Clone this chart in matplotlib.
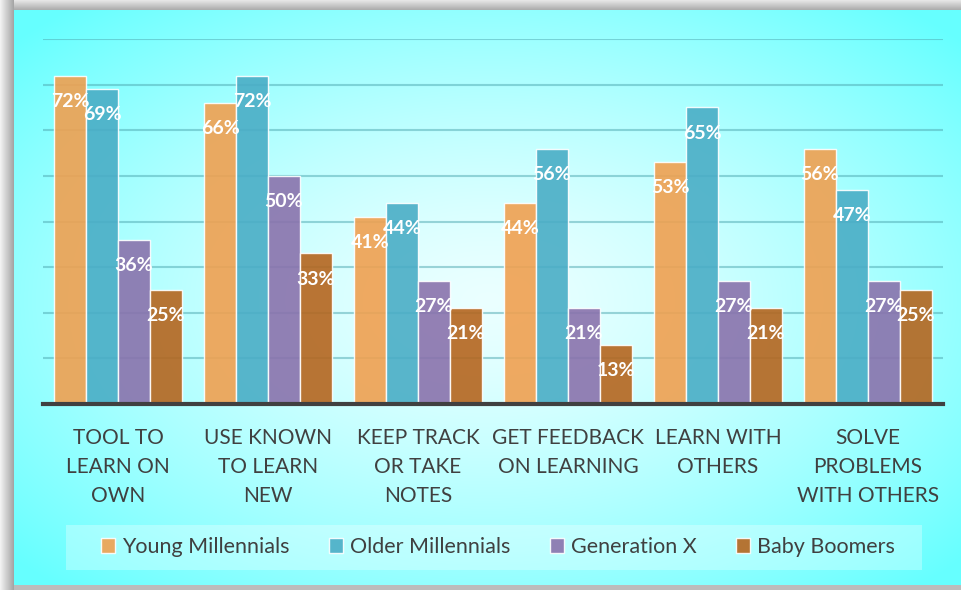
import numpy as np
import matplotlib
matplotlib.use("Agg")
import matplotlib.pyplot as plt
from matplotlib.patches import Rectangle

categories = ["TOOL TO\nLEARN ON\nOWN", "USE KNOWN\nTO LEARN\nNEW", "KEEP TRACK\nOR TAKE\nNOTES",
              "GET FEEDBACK\nON LEARNING", "LEARN WITH\nOTHERS", "SOLVE\nPROBLEMS\nWITH OTHERS"]
series_names = ["Young Millennials", "Older Millennials", "Generation X", "Baby Boomers"]
young = [72, 66, 41, 44, 53, 56]
older = [69, 72, 44, 56, 65, 47]
genx = [36, 50, 27, 21, 27, 27]
boomers = [25, 33, 21, 13, 21, 25]
series = [young, older, genx, boomers]
colors = ["#F0A050", "#4AADC6", "#8A72AC", "#B5651E"]

plt.rcParams['font.family'] = ['Lato', 'DejaVu Sans']

W, H = 962, 590
fig = plt.figure(figsize=(W / 100, H / 100), dpi=100)

# background image (frame + radial gradient)
yy, xx = np.mgrid[0:H, 0:W].astype(float)
cx, cy = 488.0, 300.0
r = np.sqrt(((xx - cx) / 474.0) ** 2 + ((yy - cy) / 287.0) ** 2)
t = np.clip(r / 1.35, 0, 1) ** 1.4
R = 0.92 - 0.52 * t
img = np.ones((H, W, 3))
img[..., 0] = R
left = xx < 14
top = yy < 10
bottom = yy >= 585
border = left | top | bottom
gval = np.full((H, W), 0.75)
gval[left] = 0.95 - 0.30 * (xx[left] / 13.0)
gval[top & ~left] = 0.90 - 0.22 * (yy[top & ~left] / 9.0)
gval[bottom & ~left] = 0.74
for c in range(3):
    ch = img[..., c]
    ch[border] = gval[border]
bg = fig.add_axes([0, 0, 1, 1])
bg.imshow(img, aspect='auto', extent=(0, 1, 0, 1), origin='upper', zorder=0)
bg.axis('off')

ax = fig.add_axes([43 / W, (H - 404) / H, 900 / W, 365 / H])
ax.patch.set_alpha(0)
x = np.arange(len(categories))
bw = 0.2133
offsets = [-1.5 * bw, -0.5 * bw, 0.5 * bw, 1.5 * bw]
for vals, off, col, name in zip(series, offsets, colors, series_names):
    ax.bar(x + off, vals, bw, color=col, alpha=0.9, edgecolor=(1, 1, 1, 0.45),
           linewidth=1.0, zorder=3, label=name)
    for xi, v in zip(x + off, vals):
        ax.annotate(f"{v}%", (xi, v), xytext=(0, -18.5), textcoords='offset points',
                    ha='center', va='center', color='white', fontsize=14,
                    fontweight='bold', zorder=5)

ax.set_xlim(-0.5, 5.5)
ax.set_ylim(0, 80)
ax.set_yticks(np.arange(10, 81, 10))
ax.yaxis.grid(True, color='#4FA8B0', alpha=0.5, linewidth=1.5, zorder=1)
ax.set_axisbelow(True)
ax.tick_params(axis='y', left=False, labelleft=False)
ax.tick_params(axis='x', bottom=False, pad=14)
ax.set_xticks(x)
ax.set_xticklabels(categories, fontsize=15, color='#404040', linespacing=1.55, va='top')
for s in ['top', 'right', 'left']:
    ax.spines[s].set_visible(False)
ax.spines['bottom'].set_color('#404040')
ax.spines['bottom'].set_linewidth(3)
ax.spines['bottom'].set_zorder(6)

# legend box
fig.patches.append(Rectangle((66 / W, (H - 570) / H), 856 / W, 45 / H, transform=fig.transFigure,
                             facecolor='white', alpha=0.3, edgecolor='none', zorder=1))
handles, labels = ax.get_legend_handles_labels()
leg = fig.legend(handles, labels, loc='center', bbox_to_anchor=(498 / W, (H - 547) / H),
                 ncol=4, frameon=False, fontsize=15.5, handlelength=0.65, handleheight=0.65,
                 handletextpad=0.3, columnspacing=1.86, labelcolor='#404040')

fig.savefig("out.png", dpi=100)
